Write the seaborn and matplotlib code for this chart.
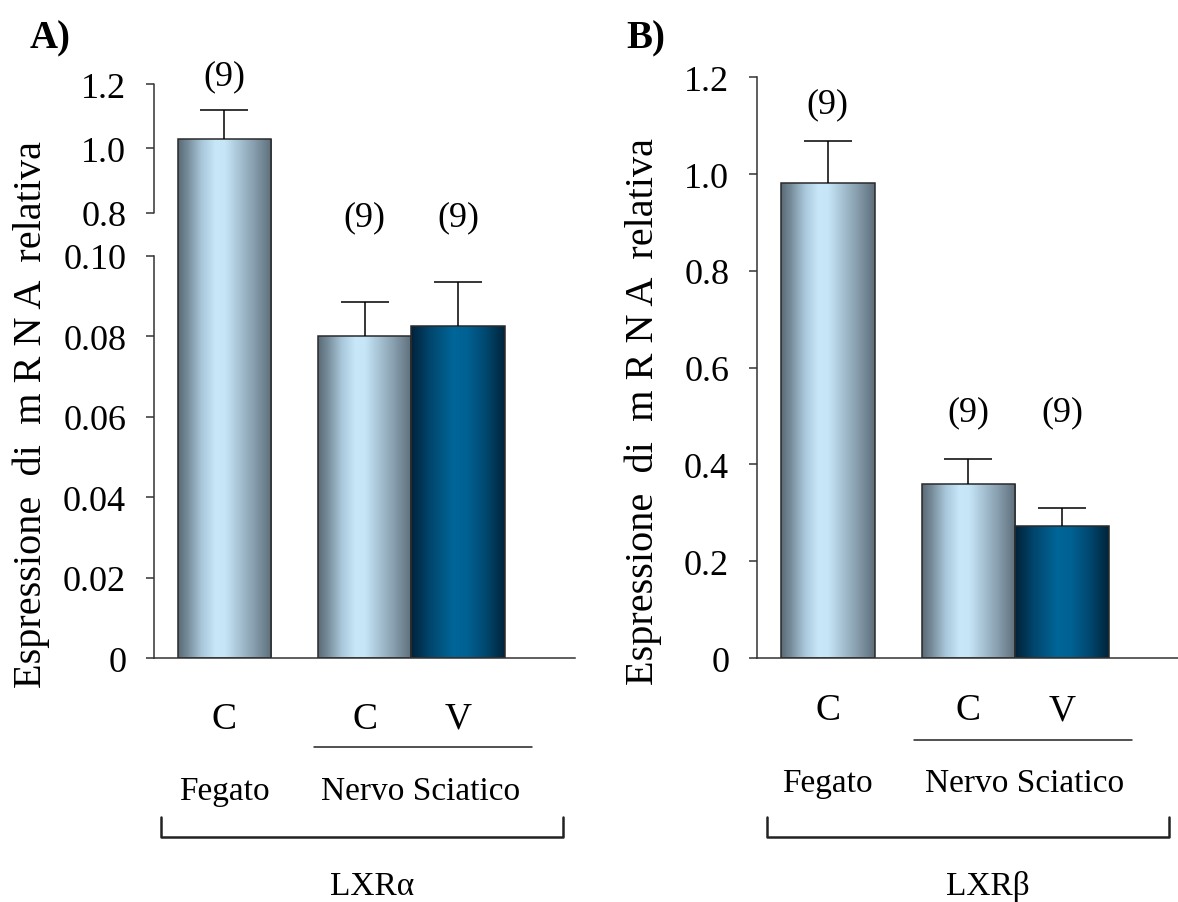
import numpy as np
import matplotlib
matplotlib.use("Agg")
import matplotlib.pyplot as plt
import seaborn as sns
import pandas as pd
from matplotlib.colors import LinearSegmentedColormap
from matplotlib import transforms
from matplotlib.lines import Line2D

# ---------------- data ----------------
groups = ["Fegato C", "Nervo Sciatico C", "Nervo Sciatico V"]
tick_labels = ["C", "C", "V"]
tissue_labels = ["Fegato", "Nervo Sciatico"]
lxra_values = [1.028, 0.080, 0.0827]
lxra_sem = [0.090, 0.0086, 0.0109]
lxrb_values = [0.981, 0.3595, 0.272]
lxrb_sem = [0.087, 0.051, 0.0386]
n_labels = ["(9)", "(9)", "(9)"]
panel_titles = ["A)", "B)"]
gene_labels = ["LXRα", "LXRβ"]
ylabel_words = ["Espressione", "di", "m R N A", "relativa"]
lxra_yticks = [0, 0.02, 0.04, 0.06, 0.08, 0.10, 0.8, 1.0, 1.2]
lxra_yticklabels = ["0", "0.02", "0.04", "0.06", "0.08", "0.10", "0.8", "1.0", "1.2"]
lxrb_yticks = [0, 0.2, 0.4, 0.6, 0.8, 1.0, 1.2]
lxrb_yticklabels = ["0", "0.2", "0.4", "0.6", "0.8", "1.0", "1.2"]

# ---------------- style ----------------
sns.set_style("white")
plt.rcParams["font.family"] = ["Liberation Serif", "DejaVu Serif"]
plt.rcParams["axes.linewidth"] = 1.1
for k in ["text.color", "axes.labelcolor", "xtick.color", "ytick.color"]:
    plt.rcParams[k] = "black"

W, H = 1178, 903
fig = plt.figure(figsize=(W / 100, H / 100), dpi=100)


def fx(px):
    return px / W


def fy(py):
    return 1 - py / H


bar_pos = [0, 1.5, 2.5]
light_cmap = LinearSegmentedColormap.from_list(
    "light",
    [(0.0, "#596a76"), (0.1, "#768b99"), (0.25, "#a8c6d9"), (0.4, "#c8e8fa"),
     (0.5, "#c6e6f8"), (0.65, "#a7c3d4"), (0.8, "#89a1b1"), (1.0, "#5e6e7a")])
dark_cmap = LinearSegmentedColormap.from_list(
    "dark",
    [(0.0, "#00223a"), (0.2, "#00466c"), (0.45, "#006699"), (0.6, "#006193"),
     (0.8, "#00476f"), (1.0, "#00243a")])
cmaps = [light_cmap, light_cmap, dark_cmap]
palette = dict(zip(groups, ["#a8c6d9", "#a8c6d9", "#00598c"]))
EDGE = "#2a2a2a"


def draw_panel(ax, values, sems, xlim, ylim):
    df = pd.DataFrame({"pos": bar_pos, "val": values, "grp": groups})
    sns.barplot(data=df, x="pos", y="val", hue="grp", palette=palette,
                native_scale=True, width=1.0, dodge=False, errorbar=None,
                legend=False, edgecolor=EDGE, linewidth=1.1, ax=ax)
    eb = ax.errorbar(bar_pos, values, yerr=[np.zeros(len(values)), sems], fmt="none",
                     ecolor="black", elinewidth=1.1, capsize=17.3, capthick=1.1,
                     zorder=3)
    caps = eb.lines[1]
    if len(caps) > 1:
        caps[0].set_visible(False)
    ax.set_xlim(*xlim)
    grad = np.linspace(0, 1, 256).reshape(1, -1)
    bars = [p for p in ax.patches][:len(values)]
    for p, cm in zip(bars, cmaps):
        x0 = (p.get_x() - xlim[0]) / (xlim[1] - xlim[0])
        x1 = (p.get_x() + p.get_width() - xlim[0]) / (xlim[1] - xlim[0])
        im = ax.imshow(grad, cmap=cm, aspect="auto", extent=[x0, x1, 0, 1],
                       transform=ax.transAxes, zorder=p.get_zorder() - 0.1,
                       interpolation="bilinear")
        im.set_clip_path(p)
        p.set_facecolor("none")
    ax.set_xlim(*xlim)
    ax.set_ylim(*ylim)
    ax.set_xlabel("")
    ax.set_ylabel("")
    for s in ["top", "right"]:
        ax.spines[s].set_visible(False)
    for s in ["left", "bottom"]:
        ax.spines[s].set_color("#333333")
        ax.spines[s].set_linewidth(1.1)
    ax.tick_params(axis="y", direction="out", length=6, width=1.1,
                   color="#333333", pad=14, labelsize=26, left=True)
    ax.set_xticks(bar_pos)
    ax.set_xticklabels(tick_labels)


# ---------------- panel A (broken axis) ----------------
axA = fig.add_axes([fx(154), fy(659.3), fx(575) - fx(154), (659.3 - 85) / H])
ctrl_v = [-0.1, 0.0, 0.10, 0.80, 1.20, 2.00]
ctrl_p = [-402.3, 0.0, 402.3, 445.6, 574.3, 831.7]


def fwd(v):
    return np.interp(v, ctrl_v, ctrl_p)


def inv(p):
    return np.interp(p, ctrl_p, ctrl_v)


draw_panel(axA, lxra_values, lxra_sem, (-0.754, 3.75), (0, 1.2))
axA.set_yscale("function", functions=(fwd, inv))
axA.set_ylim(0, 1.2)
axA.set_yticks(lxra_yticks)
axA.set_yticklabels(lxra_yticklabels)
axA.spines["left"].set_bounds(0, 0.10)
axA.add_line(Line2D([0, 0], [0.8, 1.2],
                    transform=transforms.blended_transform_factory(axA.transAxes, axA.transData),
                    color="#333333", lw=1.1, clip_on=False))
axA.tick_params(axis="x", length=0, pad=31, labelsize=27)

# ---------------- panel B ----------------
axB = fig.add_axes([fx(757), fy(659), fx(1178) - fx(757), (659 - 78.3) / H])
draw_panel(axB, lxrb_values, lxrb_sem, (-0.751, 3.73), (0, 1.2))
axB.set_yticks(lxrb_yticks)
axB.set_yticklabels(lxrb_yticklabels)
axB.tick_params(axis="x", length=0, pad=25, labelsize=27)

# ---------------- annotations ----------------
ylabel_text = "  ".join(ylabel_words)
layout = [
    dict(ax=axA, nlab_y=[77, 218, 218], ul=(0.957, 3.29, 748), br=(-0.68, 3.62, 818, 838),
         tissue_y=800, gene_x=1.58, ylab=(31, 415), title=(30, 48)),
    dict(ax=axB, nlab_y=[105, 413, 413], ul=(0.92, 3.24, 741), br=(-0.645, 3.63, 818, 838),
         tissue_y=792, gene_x=1.71, ylab=(643, 412), title=(626, 48)),
]
for i, L in enumerate(layout):
    ax = L["ax"]
    tr = transforms.blended_transform_factory(ax.transData, fig.transFigure)
    for xp, lab, py in zip(bar_pos, n_labels, L["nlab_y"]):
        ax.text(xp, fy(py), lab, transform=tr, ha="center", va="center",
                fontsize=26, clip_on=False)
    x0, x1, uy = L["ul"]
    ax.add_line(Line2D([x0, x1], [fy(uy), fy(uy)], transform=tr, color="#222222",
                       lw=1.1, clip_on=False))
    bx0, bx1, by0, by1 = L["br"]
    ax.add_line(Line2D([bx0, bx0, bx1, bx1], [fy(by0), fy(by1), fy(by1), fy(by0)],
                       transform=tr, color="#222222", lw=1.8, clip_on=False))
    ax.text(bar_pos[0], fy(L["tissue_y"]), tissue_labels[0], transform=tr,
            ha="center", va="baseline", fontsize=24, clip_on=False)
    ax.text(2.1, fy(L["tissue_y"]), tissue_labels[1], transform=tr,
            ha="center", va="baseline", fontsize=24, clip_on=False)
    ax.text(L["gene_x"], fy(895), gene_labels[i], transform=tr,
            ha="center", va="baseline", fontsize=24, clip_on=False)
    fig.text(fx(L["ylab"][0]), fy(L["ylab"][1]), ylabel_text, rotation=90,
             ha="center", va="center", fontsize=29)
    fig.text(fx(L["title"][0]), fy(L["title"][1]), panel_titles[i],
             ha="left", va="baseline", fontsize=28, fontweight="bold")

fig.savefig("out.png", dpi=100)
